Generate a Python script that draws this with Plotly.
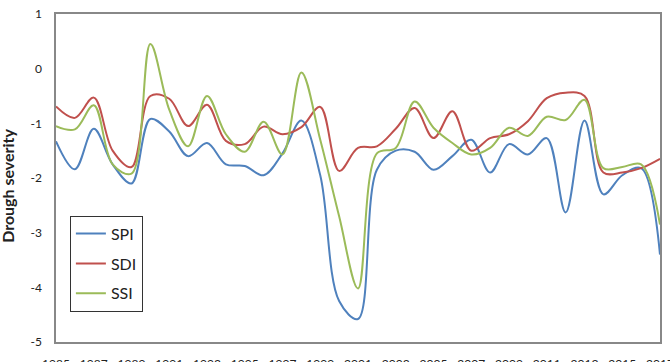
import plotly.graph_objects as go

years = list(range(1985, 2018))

spi = [-1.33, -1.84, -1.10, -1.75, -2.10, -0.92, -1.15, -1.60, -1.36, -1.75,
       -1.78, -1.95, -1.55, -0.95, -1.95, -4.25, -4.58, -1.85, -1.50, -1.52,
       -1.85, -1.60, -1.30, -1.90, -1.38, -1.57, -1.27, -2.63, -0.95, -2.30,
       -1.95, -1.82, -3.40]

sdi = [-0.69, -0.90, -0.53, -1.50, -1.80, -0.50, -0.55, -1.05, -0.66, -1.32,
       -1.38, -1.06, -1.20, -1.07, -0.70, -1.87, -1.45, -1.42, -1.10, -0.72,
       -1.27, -0.78, -1.50, -1.27, -1.20, -0.96, -0.54, -0.44, -0.50, -1.90,
       -1.90, -1.82, -1.65]

ssi = [-1.05, -1.11, -0.67, -1.75, -1.92, 0.45, -0.75, -1.42, -0.50, -1.20,
       -1.52, -0.97, -1.57, -0.07, -1.30, -2.70, -4.02, -1.55, -1.45, -0.60,
       -1.08, -1.36, -1.57, -1.45, -1.08, -1.23, -0.88, -0.94, -0.57, -1.82,
       -1.80, -1.75, -2.85]

x_ticks = list(range(1985, 2018, 2))
y_ticks = [1, 0, -1, -2, -3, -4, -5]
y_tick_text = ["1", "0", "-1", "-2", "-3", "-4", "-5"]
y_title = "Drough severity"

series = [("SPI", spi, "#4F81BD"), ("SDI", sdi, "#C0504D"), ("SSI", ssi, "#9BBB59")]

fig = go.Figure()
for name, vals, col in series:
    fig.add_trace(go.Scatter(
        x=years, y=vals, name=name, mode="lines", legendgroup=name,
        line=dict(color=col, width=2, shape="spline", smoothing=1.0),
    ))

font_family = "Lato, 'Open Sans', sans-serif"

fig.update_layout(
    width=670, height=362,
    margin=dict(l=56, r=10, t=14, b=20),
    paper_bgcolor="white", plot_bgcolor="white",
    font=dict(family=font_family, size=12, color="#222"),
    showlegend=True,
    legend=dict(
        x=0.023, y=0.385, xanchor="left", yanchor="top",
        bordercolor="#333", borderwidth=1, bgcolor="white",
        font=dict(size=16, color="#222", family=font_family),
        traceorder="grouped", tracegroupgap=6,
        itemwidth=30,
    ),
    xaxis=dict(
        range=[1985, 2017], tickvals=x_ticks, showgrid=False, zeroline=False,
        showline=True, linecolor="#888", linewidth=1.5, mirror=True,
        ticks="", automargin=False, ticklabelstandoff=10,
        ticklabeloverflow="allow",
        tickfont=dict(size=12, color="#222"),
    ),
    yaxis=dict(
        range=[-5, 1], tickvals=y_ticks, ticktext=y_tick_text,
        showgrid=False, zeroline=False,
        showline=True, linecolor="#888", linewidth=1.5, mirror=True,
        ticks="", automargin=False, ticklabelstandoff=10,
        tickfont=dict(size=12, color="#222"),
    ),
    annotations=[dict(
        text="<b>" + y_title + "</b>", xref="paper", yref="paper",
        x=-48 / 604, y=0.476, xanchor="center", yanchor="middle",
        textangle=-90, showarrow=False,
        font=dict(size=16, color="#222", family=font_family),
    )],
)

fig.write_html("out.html")
